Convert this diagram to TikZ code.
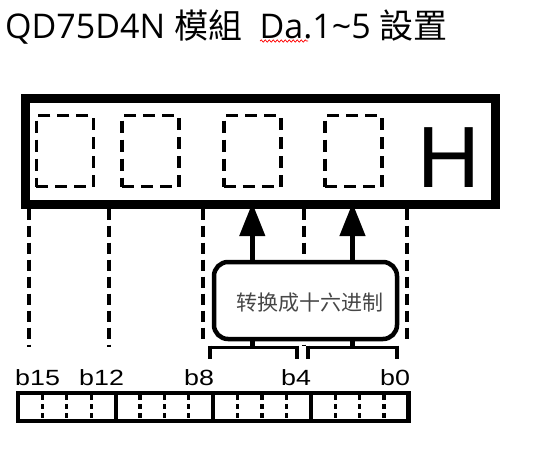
\documentclass[tikz,border=0pt]{standalone}
\usepackage{fontspec}
\setmainfont{Liberation Sans}
\newfontfamily\titlefont{Open Sans}
\newfontfamily\cjktc{Noto Sans CJK TC}
\newfontfamily\cjksc{Noto Sans CJK SC}
\newfontfamily\bitfont[FakeStretch=1.22]{Liberation Sans}
\usetikzlibrary{arrows.meta,decorations.pathmorphing,calc}
\begin{document}
\begin{tikzpicture}[x=1pt,y=-1pt,
  regbox/.style={draw, line width=9pt, minimum width=470pt, minimum height=105.5pt, inner sep=0pt, outer sep=0pt},
  digitbox/.style={draw, line width=3.5pt, dash pattern=on 12pt off 7pt, minimum width=57pt, minimum height=71pt, inner sep=0pt, outer sep=0pt},
  guide/.style={line width=4pt, dash pattern=on 11pt off 6pt},
  convbox/.style={draw, fill=white, line width=4.5pt, rounded corners=14pt, minimum width=183pt, minimum height=77pt, inner sep=0pt, outer sep=0pt},
  uparrow/.style={line width=4.5pt, -{Triangle[length=33pt,width=25pt]}, shorten >=-1pt},
  stem/.style={line width=4.5pt},
  bracketbar/.style={line width=3pt},
  bracketleg/.style={line width=4pt},
  bitlabel/.style={inner sep=0pt, anchor=base west, font=\bitfont\fontsize{22}{24}\selectfont},
  bitbar/.style={draw, line width=4.5pt, minimum width=390.5pt, minimum height=27.6pt, inner sep=0pt, outer sep=0pt},
  divider/.style={line width=4pt},
  tick/.style={line width=3.3pt, dash pattern=on 5pt off 4pt, dash phase=-2pt}
]
\useasboundingbox (0,0) rectangle (542,475);

% title
\node[anchor=base west, inner sep=0pt, font=\fontsize{34}{40}\selectfont\titlefont] (title) at (5,38)
  {QD75D4N {\cjktc 模組}\ \ Da.1\textasciitilde5 {\cjktc 設置}};
\coordinate (wavyA) at (260,41);
\coordinate (wavyB) at (308,41);
\draw[red, line width=0.7pt, decorate, decoration={snake, amplitude=1.1pt, segment length=4pt}] (wavyA) -- (wavyB);

% register box
\node[regbox] (reg) at (260,151.25) {};
\node[digitbox] (d1) at (64.8,151) {};
\node[digitbox] (d2) at (150.5,151) {};
\node[digitbox] (d3) at (252.3,151) {};
\node[digitbox] (d4) at (353.5,151) {};
\node[anchor=base, inner sep=0pt, font=\fontsize{87}{87}\selectfont] (hex) at (449,187) {H};

% guide end points
\coordinate (g1) at (29,347);
\coordinate (g2) at (108.5,347);
\coordinate (g3) at (203,343);
\coordinate (g4) at (303.5,345);
\coordinate (g5) at (407,343);
\foreach \g in {g1,g2,g3,g4,g5}
  \draw[guide] ($(reg.south -| \g)+(0,4.5)$) -- (\g);

% converter box
\node[convbox] (conv) at (305.5,300.5) {};
\node[inner sep=0pt, font=\cjksc\fontsize{21}{24}\selectfont, text=black!72] (convtext) at (310,303) {转换成十六进制};

% arrows
\coordinate (a1) at (252.3,0);
\coordinate (a2) at (352.5,0);
\draw[uparrow] (conv.north -| a1) -- (reg.south -| a1);
\draw[uparrow] (conv.north -| a2) -- (reg.south -| a2);

% brackets
\coordinate (bA) at (210,347);
\coordinate (bB) at (297,347);
\coordinate (bC) at (308,347);
\coordinate (bD) at (397,347);
\draw[stem] (conv.south -| a1) -- (bA -| a1);
\draw[stem] (conv.south -| a2) -- (bC -| a2);
\draw[bracketbar] (bA) -- (bB);
\draw[bracketbar] (bC) -- (bD);
\foreach \b in {bA,bB,bC,bD}
  \draw[bracketleg] ($(\b)+(0,-1.5)$) -- ($(\b)+(0,12)$);

% bit labels
\node[bitlabel] (l15) at (15,385) {b15};
\node[bitlabel] (l12) at (79,385) {b12};
\node[bitlabel] (l8) at (184,385) {b8};
\node[bitlabel] (l4) at (281,385) {b4};
\node[bitlabel] (l0) at (380,385) {b0};

% bit bar
\node[bitbar] (bits) at (213.25,407) {};
\foreach \k in {1,2,3,5,6,7,9,10,11,13,14,15}
  \draw[tick] ($(bits.north west)!\k/16!(bits.north east)$) -- ($(bits.south west)!\k/16!(bits.south east)$);
\foreach \k in {4,8,12}
  \draw[divider] ($(bits.north west)!\k/16!(bits.north east)$) -- ($(bits.south west)!\k/16!(bits.south east)$);
\end{tikzpicture}
\end{document}
